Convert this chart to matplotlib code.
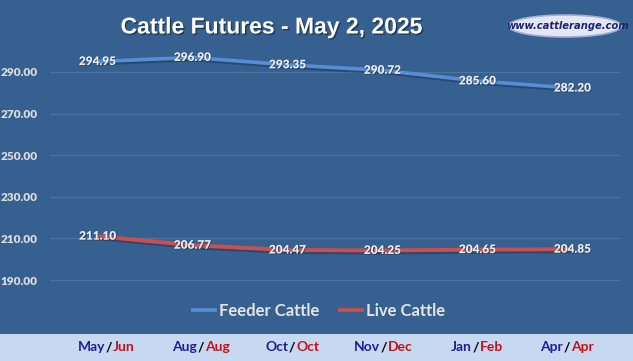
import matplotlib
matplotlib.use("Agg")
import matplotlib.pyplot as plt
import matplotlib.patheffects as pe
from matplotlib.patches import Rectangle, Ellipse

# data
contracts = ["May/Jun", "Aug/Aug", "Oct/Oct", "Nov/Dec", "Jan/Feb", "Apr/Apr"]
feeder_months = ["May", "Aug", "Oct", "Nov", "Jan", "Apr"]
live_months = ["Jun", "Aug", "Oct", "Dec", "Feb", "Apr"]
feeder = [294.95, 296.90, 293.35, 290.72, 285.60, 282.20]
live = [211.10, 206.77, 204.47, 204.25, 204.65, 204.85]
yticks = [190, 210, 230, 250, 270, 290]

bg = "#36608F"
W, H = 633, 361

fig = plt.figure(figsize=(W / 100, H / 100), dpi=100)
fig.patch.set_facecolor(bg)

ax = fig.add_axes([50 / W, 1 - 301 / H, 570 / W, 250 / H])
ax.set_facecolor(bg)
ax.set_xlim(-0.5, 5.5)
ax.set_ylim(180, 300)
for s in ax.spines.values():
    s.set_visible(False)
ax.set_yticks(yticks)
ax.set_yticklabels([f"{v:.2f}" for v in yticks])
ax.set_xticks([])
ax.tick_params(axis="y", length=0, pad=9, labelcolor="#DCDCDC")
for lbl in ax.get_yticklabels():
    lbl.set_fontfamily("Lato")
    lbl.set_fontweight("heavy")
    lbl.set_fontsize(8.5)
ax.grid(axis="y", color="#4C74A3", linewidth=0.9)
ax.set_axisbelow(True)

x = list(range(len(contracts)))
shadow = [pe.SimpleLineShadow(offset=(1, -1.5), shadow_color="#1F3A5F", alpha=0.6), pe.Normal()]
ax.plot(x, feeder, color="#558ED5", linewidth=2.6, label="Feeder Cattle",
        solid_capstyle="butt", path_effects=shadow)
ax.plot(x, live, color="#CD4F4A", linewidth=2.8, label="Live Cattle",
        solid_capstyle="butt", path_effects=shadow)

txt_fx = [pe.withSimplePatchShadow(offset=(0.6, -0.6), shadow_rgbFace="#1F3A5F", alpha=0.7)]
for xi, v in zip(x, feeder):
    ax.text(xi, v, f"{v:.2f}", ha="center", va="center", color="#ECECEC",
            fontsize=8.5, fontweight="heavy", family="Lato", path_effects=txt_fx)
for xi, v in zip(x, live):
    ax.text(xi, v, f"{v:.2f}", ha="center", va="center", color="#ECECEC",
            fontsize=8.5, fontweight="heavy", family="Lato", path_effects=txt_fx)

leg = ax.legend(loc="center", bbox_to_anchor=(318 / W, 1 - 311 / H),
                bbox_transform=fig.transFigure, ncol=2, frameon=False,
                handlelength=1.6, handletextpad=0.1, columnspacing=1.1,
                prop={"family": "Lato", "weight": "bold", "size": 12})
for t in leg.get_texts():
    t.set_color("#E4E4E4")
for h in leg.legend_handles:
    h.set_path_effects([])
    h.set_linewidth(2.6)

# title
fig.text(271 / W, 1 - 27 / H, "Cattle Futures - May 2, 2025", ha="center", va="center",
         color="white", fontsize=16.5, fontweight="bold", family="Liberation Sans",
         path_effects=[pe.withSimplePatchShadow(offset=(1, -1), shadow_rgbFace="#1A2F4A", alpha=0.8)])

# logo
fig.patches.append(Ellipse((565 / W, 1 - 26 / H), 113 / W, 22 / H, transform=fig.transFigure,
                           facecolor="#E4E6F4", edgecolor="#9FB0D6", linewidth=1.2))
fig.text(567 / W, 1 - 26 / H, "www.cattlerange.com", ha="center", va="center",
         color="#1B2470", fontsize=8, fontweight="bold", style="italic",
         family="Liberation Sans Narrow", stretch="condensed")

# bottom band with contract months
fig.patches.append(Rectangle((0, 0), 1, (H - 334) / H, transform=fig.transFigure,
                             facecolor="#C6D9F0", edgecolor="none"))
yb = 1 - 347 / H
for i, (fm, lm) in enumerate(zip(feeder_months, live_months)):
    xc = (109 + 91.6 * i) / W
    fig.text(xc, yb, "/", ha="center", va="center", color="black",
             fontsize=10, fontweight="bold", family="Lato")
    fig.text(xc - 4 / W, yb, fm, ha="right", va="center", color="#1E1E9C",
             fontsize=10, fontweight="bold", family="Lato")
    fig.text(xc + 4 / W, yb, lm, ha="left", va="center", color="#C8101A",
             fontsize=10, fontweight="bold", family="Lato")

fig.savefig("out.png", dpi=100, facecolor=bg)
